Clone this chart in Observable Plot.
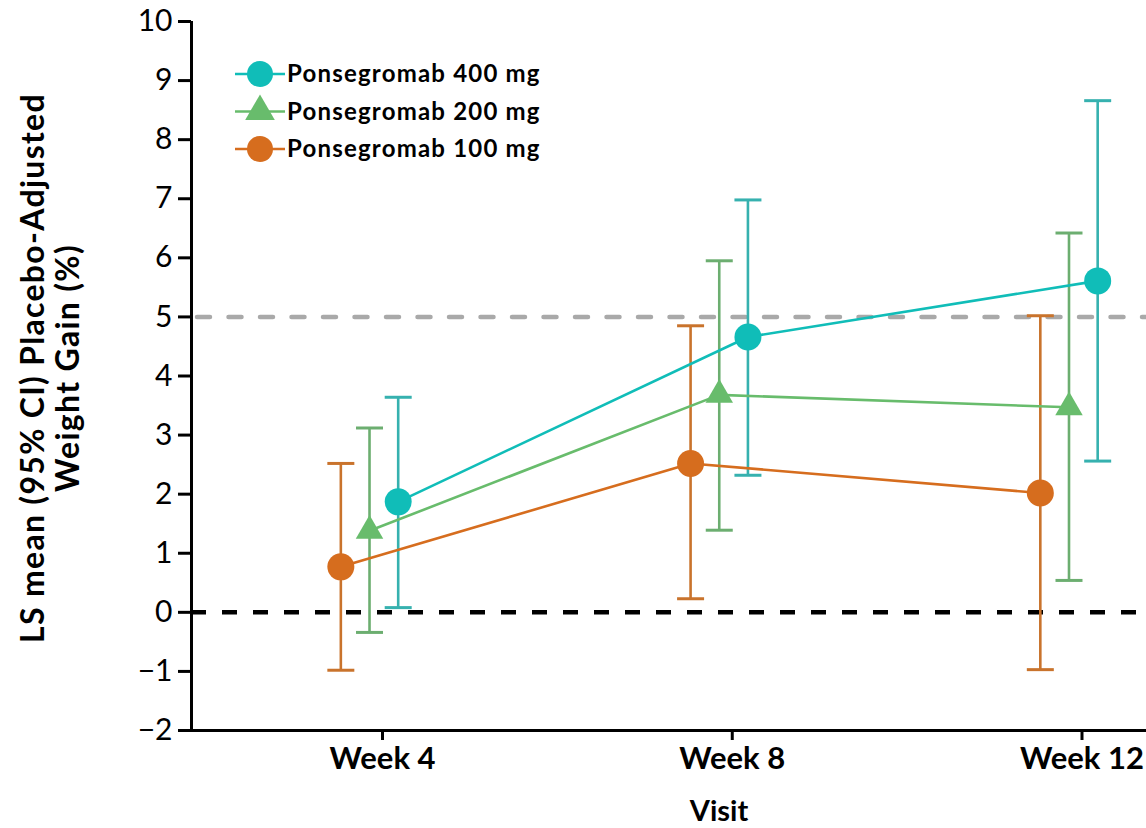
<!DOCTYPE html>
<html><head><meta charset="utf-8">
<script src="https://cdn.jsdelivr.net/npm/d3@7"></script>
<script src="https://cdn.jsdelivr.net/npm/@observablehq/plot@0.6"></script>
<style>
body{margin:0;background:#fff;}
#wrap{position:relative;width:1146px;height:828px;}
#legend{position:absolute;left:235px;top:56px;}
</style></head><body><div id="wrap"></div>
<script>
const visits = ["Week 4", "Week 8", "Week 12"];
const seriesNames = ["Ponsegromab 400 mg", "Ponsegromab 200 mg", "Ponsegromab 100 mg"];
const mean400 = [1.87, 4.66, 5.61];
const lo400 = [0.08, 2.32, 2.56];
const hi400 = [3.64, 6.98, 8.66];
const mean200 = [1.38, 3.68, 3.47];
const lo200 = [-0.34, 1.39, 0.54];
const hi200 = [3.12, 5.95, 6.42];
const mean100 = [0.77, 2.52, 2.02];
const lo100 = [-0.98, 0.23, -0.97];
const hi100 = [2.52, 4.85, 5.02];
const refLines = [0, 5];
const yTicks = [-2, -1, 0, 1, 2, 3, 4, 5, 6, 7, 8, 9, 10];
const yLabel = "LS mean (95% CI) Placebo-Adjusted\nWeight Gain (%)";
const xLabel = "Visit";

const series = [
  {name: seriesNames[2], mean: mean100, lo: lo100, hi: hi100, color: "#d66d1e", bar: "#c9732c", symbol: "circle", r: 13.5, off: -0.082},
  {name: seriesNames[1], mean: mean200, lo: lo200, hi: hi200, color: "#68bc6c", bar: "#6cae70", symbol: "triangle", r: 10.2, off: 0},
  {name: seriesNames[0], mean: mean400, lo: lo400, hi: hi400, color: "#10bdb8", bar: "#36b1af", symbol: "circle", r: 13.5, off: 0.082}
];

const capSymbol = {draw(ctx, size) { const w = Math.sqrt(size / Math.PI); ctx.moveTo(-w, 0); ctx.lineTo(w, 0); }};
const xDomain = [-0.509, 2.2216];

const marks = [
  Plot.ruleY([refLines[1]], {stroke: "#a9a9a9", strokeWidth: 4.5, strokeDasharray: "13,18.5", strokeLinecap: "round", dx: 6}),
  Plot.ruleY([refLines[0]], {stroke: "black", strokeWidth: 4.5, strokeDasharray: "15,16"})
];
for (const s of series) {
  const rows = visits.map((v, i) => ({x: i + s.off, mean: s.mean[i], lo: s.lo[i], hi: s.hi[i]}));
  marks.push(
    Plot.ruleX(rows, {x: "x", y1: "lo", y2: "hi", stroke: s.bar, strokeWidth: 2.6}),
    Plot.dot(rows, {x: "x", y: "lo", symbol: capSymbol, r: 13.5, stroke: s.bar, fill: "none", strokeWidth: 3}),
    Plot.dot(rows, {x: "x", y: "hi", symbol: capSymbol, r: 13.5, stroke: s.bar, fill: "none", strokeWidth: 3})
  );
}
for (const s of series) {
  const rows = visits.map((v, i) => ({x: i + s.off, mean: s.mean[i]}));
  marks.push(
    Plot.line(rows, {x: "x", y: "mean", stroke: s.color, strokeWidth: 2.6}),
    Plot.dot(rows, {x: "x", y: "mean", symbol: s.symbol, r: s.r, fill: s.color, stroke: "none"})
  );
}
marks.push(
  Plot.axisY({ticks: yTicks, tickSize: 13, strokeWidth: 3, fontSize: 30, tickPadding: 6, label: null, stroke: "black", fill: "black"}),
  Plot.axisX({ticks: [0, 1, 2], tickFormat: i => visits[i], tickSize: 10, strokeWidth: 3, fontSize: 31, fontWeight: "bold", dx: 13, tickPadding: 6, label: null, stroke: "black", fill: "black"}),
  Plot.ruleX([xDomain[0]], {stroke: "black", strokeWidth: 3}),
  Plot.ruleY([yTicks[0]], {stroke: "black", strokeWidth: 3}),
  Plot.text([yLabel], {frameAnchor: "left", rotate: -90, dx: -141, dy: -8, fontSize: 32, fontWeight: "bold", lineHeight: 1.1, textAnchor: "middle", lineAnchor: "middle", fill: "black"}),
  Plot.text([xLabel], {frameAnchor: "bottom", dx: 50, dy: 81, fontSize: 29, fontWeight: "bold", fill: "black", lineAnchor: "middle"})
);

const chart = Plot.plot({
  width: 1146, height: 828,
  marginLeft: 191, marginRight: 0, marginTop: 21, marginBottom: 98,
  style: {fontFamily: "Lato", background: "white", overflow: "visible"},
  x: {domain: xDomain, label: null, axis: null},
  y: {domain: [-2, 10], label: null, axis: null},
  marks
});
d3.select(chart).selectAll("text")
  .filter(function() { return this.textContent.startsWith("LS mean"); })
  .attr("letter-spacing", 1.3);
const wrap = document.getElementById("wrap");
wrap.appendChild(chart);

// legend overlay
const legendOrder = [series[2], series[1], series[0]];
const leg = d3.select(wrap).append("svg").attr("id", "legend").attr("width", 340).attr("height", 120);
legendOrder.forEach((s, k) => {
  const g = leg.append("g").attr("transform", `translate(0,${18 + k * 37.5})`);
  g.append("line").attr("x1", 0).attr("x2", 50).attr("stroke", s.color).attr("stroke-width", 2.6);
  const size = Math.PI * (s.symbol === "triangle" ? 11 : 13) ** 2;
  g.append("path").attr("transform", "translate(25,0)")
    .attr("d", d3.symbol(s.symbol === "triangle" ? d3.symbolTriangle : d3.symbolCircle, size)())
    .attr("fill", s.color);
  g.append("text").attr("x", 52).attr("dy", "0.35em").text(s.name)
    .attr("font-family", "Lato").attr("font-weight", "bold").attr("font-size", 24).attr("letter-spacing", 1.2).attr("fill", "black");
});
</script></body></html>
